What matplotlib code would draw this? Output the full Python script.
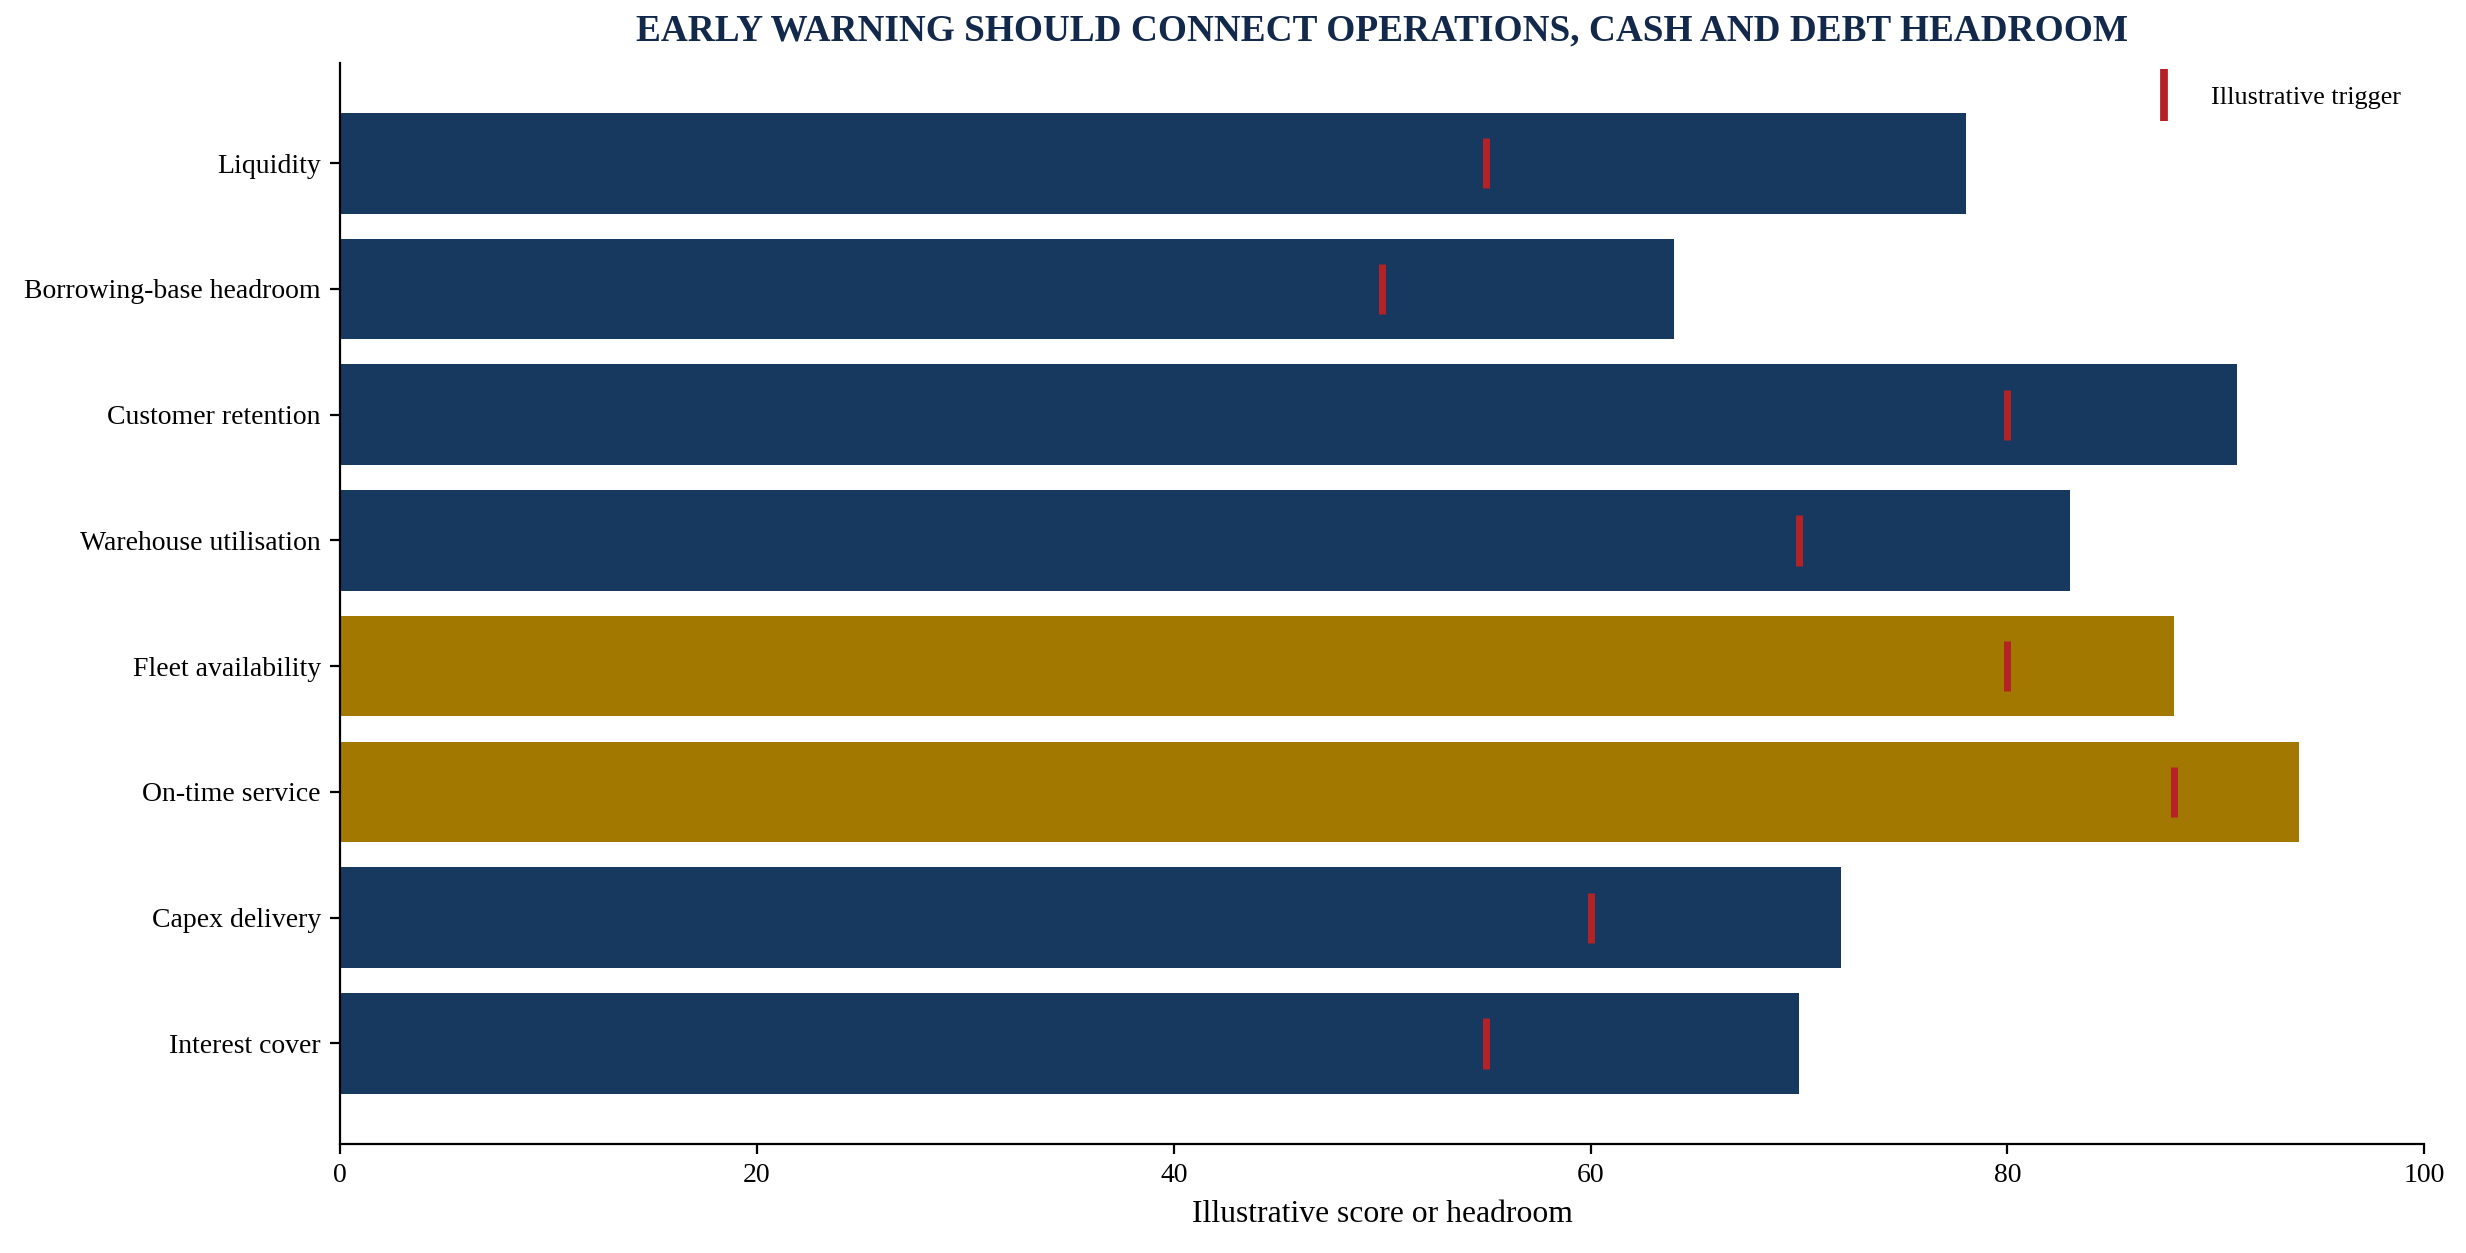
import matplotlib.pyplot as plt
from matplotlib.lines import Line2D
import numpy as np

plt.rcParams['font.family'] = ['Liberation Serif', 'DejaVu Serif']

metrics = ["Liquidity", "Borrowing-base headroom", "Customer retention", "Warehouse utilisation",
           "Fleet availability", "On-time service", "Capex delivery", "Interest cover"]
scores = [78, 64, 91, 83, 88, 94, 72, 70]
triggers = [55, 50, 80, 70, 80, 88, 60, 55]
groups = ["finance", "finance", "ops", "ops", "fleet", "fleet", "ops", "finance"]

navy = "#17395f"
gold = "#a37800"
red = "#b52226"
bar_colors = [gold if g == "fleet" else navy for g in groups]

fig = plt.figure(figsize=(12.33, 6.265), dpi=200)
ax = fig.add_axes([0.138, 0.087, 0.845, 0.863])

y_pos = np.arange(len(metrics))
ax.barh(y_pos, scores, height=0.8, color=bar_colors)
ax.vlines(triggers, y_pos - 0.2, y_pos + 0.2, color=red, linewidth=2.5)

ax.set_yticks(y_pos, labels=metrics)
ax.set_ylim(7.8, -0.8)
ax.set_xlim(0, 100)
ax.set_xticks([0, 20, 40, 60, 80, 100])
ax.tick_params(labelsize=10)
ax.set_xlabel("Illustrative score or headroom", fontsize=11.4)
ax.spines['top'].set_visible(False)
ax.spines['right'].set_visible(False)
ax.set_title("EARLY WARNING SHOULD CONNECT OPERATIONS, CASH AND DEBT HEADROOM",
             fontsize=13.4, fontweight='bold', color="#13294b", pad=8)

handle = Line2D([], [], color=red, marker='|', linestyle='None', markersize=19, markeredgewidth=2.8)
ax.legend([handle], ["Illustrative trigger"], loc='upper right', frameon=False, fontsize=9.4)

plt.savefig("out.png", dpi=200)
